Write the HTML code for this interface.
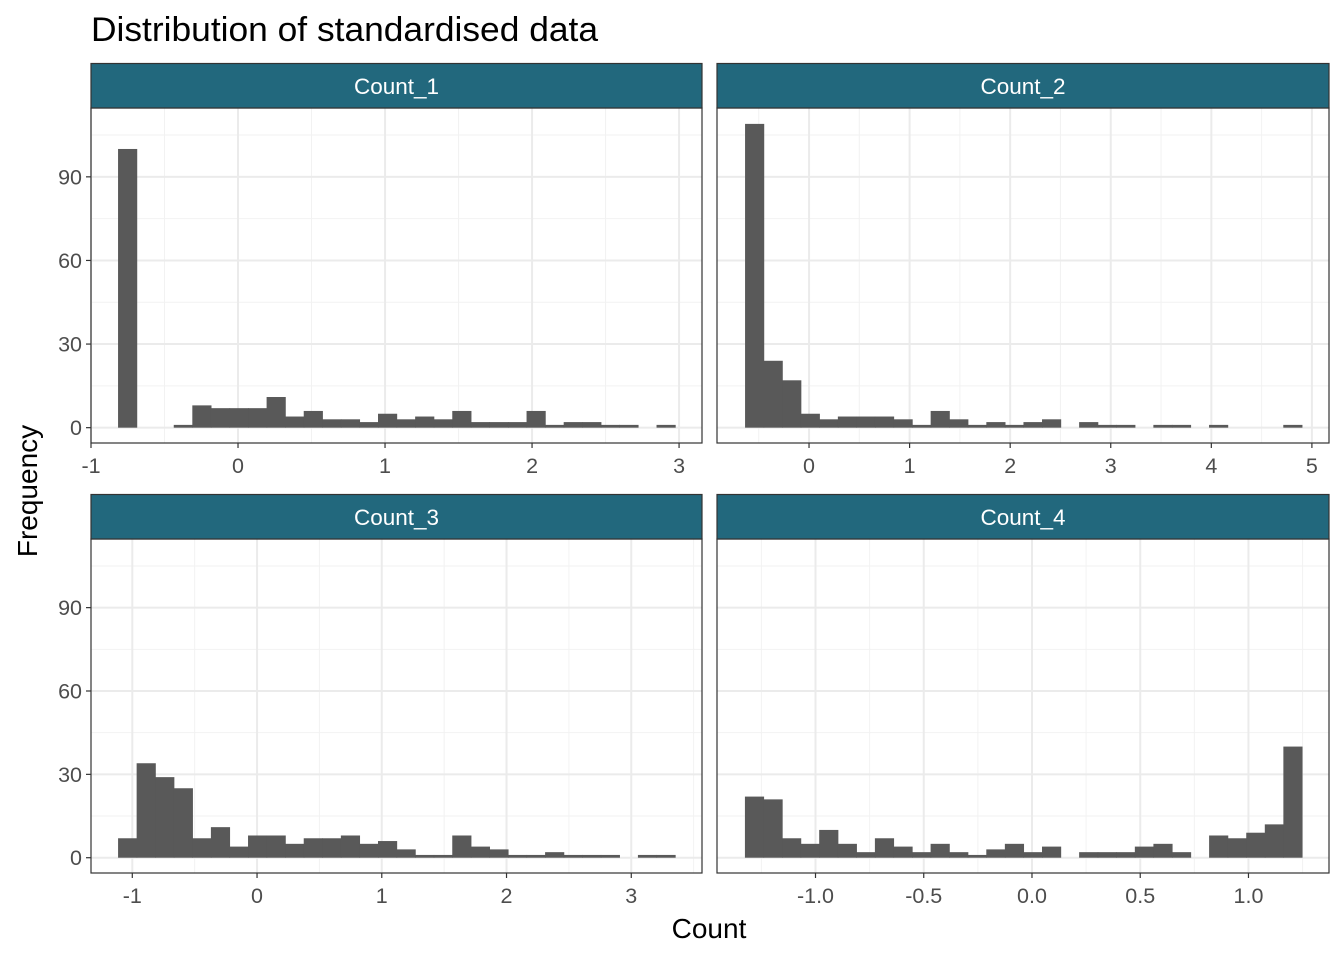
<!DOCTYPE html>
<html><head><meta charset="utf-8"><style>
body{margin:0;background:#fff;}
svg text{font-family:"Liberation Sans",sans-serif;}
</style></head><body>
<svg id="chart" width="1344" height="960" xmlns="http://www.w3.org/2000/svg">
<text x="91" y="41" font-size="34.5" fill="#000" textLength="507" lengthAdjust="spacingAndGlyphs">Distribution of standardised data</text>
<text x="709" y="938" font-size="28" fill="#000" text-anchor="middle">Count</text>
<text x="0" y="0" font-size="28" fill="#000" text-anchor="middle" transform="translate(37,491) rotate(-90)">Frequency</text>
</svg>
<script>
const panelNames = ["Count_1","Count_2","Count_3","Count_4"];
const counts1 = [100,0,0,1,8,7,7,7,11,4,6,3,3,2,5,3,4,3,6,2,2,2,6,1,2,2,1,1,0,1];
const counts2 = [109,24,17,5,3,4,4,4,3,1,6,3,1,2,1,2,3,0,2,1,1,0,1,1,0,1,0,0,0,1];
const counts3 = [7,34,29,25,7,11,4,8,8,5,7,7,8,5,6,3,1,1,8,4,3,1,1,2,1,1,1,0,1,1];
const counts4 = [22,21,7,5,10,5,2,7,4,2,5,2,1,3,5,2,4,0,2,2,2,4,5,2,0,8,7,9,12,40];
const dataRange1 = [-0.816, 2.973];
const dataRange2 = [-0.636, 4.90];
const dataRange3 = [-1.114, 3.351];
const dataRange4 = [-1.326, 1.247];
const xTicks1 = [-1,0,1,2,3];
const xTicks2 = [0,1,2,3,4,5];
const xTicks3 = [-1,0,1,2,3];
const xTicks4 = [-1.0,-0.5,0.0,0.5,1.0];
const xTickLabels1 = ["-1","0","1","2","3"];
const xTickLabels2 = ["0","1","2","3","4","5"];
const xTickLabels3 = ["-1","0","1","2","3"];
const xTickLabels4 = ["-1.0","-0.5","0.0","0.5","1.0"];
const yTicks = [0,30,60,90];

const svg = document.getElementById('chart');
const NS = "http://www.w3.org/2000/svg";
function mk(tag, attrs, parent){const e=document.createElementNS(NS,tag);for(const k in attrs)e.setAttribute(k,attrs[k]);(parent||svg).appendChild(e);return e;}

const panels = [
 {counts:counts1, range:dataRange1, ticks:xTicks1, labels:xTickLabels1, x0:91, x1:702, y0:108, y1:443, xdom:[-1,3.156]},
 {counts:counts2, range:dataRange2, ticks:xTicks2, labels:xTickLabels2, x0:717, x1:1329, y0:108, y1:443, xdom:[-0.915,5.17]},
 {counts:counts3, range:dataRange3, ticks:xTicks3, labels:xTickLabels3, x0:91, x1:702, y0:539, y1:873, xdom:[-1.331,3.567]},
 {counts:counts4, range:dataRange4, ticks:xTicks4, labels:xTickLabels4, x0:717, x1:1329, y0:539, y1:873, xdom:[-1.455,1.372]}
];
const ydom = [-5.5, 114.7];

panels.forEach((p,i)=>{
  const g = mk('g',{});
  
  
  const xs = v => p.x0 + (v-p.xdom[0])/(p.xdom[1]-p.xdom[0])*(p.x1-p.x0);
  const ys = v => p.y1 - (v-ydom[0])/(ydom[1]-ydom[0])*(p.y1-p.y0);
  const step = p.ticks[1]-p.ticks[0];
  for(let v=p.ticks[0]-step/2; v<=p.xdom[1]; v+=step){ if(v<p.xdom[0])continue; const x=xs(v);
    const l=mk('line',{x1:x,x2:x,y1:p.y0,y2:p.y1,stroke:'#f2f2f2','stroke-width':1},g);
     }
  [15,45,75,105].forEach(v=>{const y=ys(v);
    const l=mk('line',{x1:p.x0,x2:p.x1,y1:y,y2:y,stroke:'#f2f2f2','stroke-width':1},g);
     });
  p.ticks.forEach(v=>{const x=xs(v);
    const l=mk('line',{x1:x,x2:x,y1:p.y0,y2:p.y1,stroke:'#ebebeb','stroke-width':2},g);
     });
  yTicks.forEach(v=>{const y=ys(v);
    const l=mk('line',{x1:p.x0,x2:p.x1,y1:y,y2:y,stroke:'#ebebeb','stroke-width':2},g);
     });
  const n=p.counts.length, w=(p.range[1]-p.range[0])/n;
  p.counts.forEach((c,k)=>{ if(c<=0) return;
    const a=xs(p.range[0]+k*w), b=xs(p.range[0]+(k+1)*w);
    const r=mk('rect',{x:a,y:ys(c),width:b-a+0.6,height:ys(0)-ys(c),fill:'#595959'},g);
     });
  const br=mk('rect',{x:p.x0,y:p.y0,width:p.x1-p.x0,height:p.y1-p.y0,fill:'none',stroke:'#333','stroke-width':1.2},g);
   
  const st=mk('rect',{x:p.x0,y:p.y0-44.5,width:p.x1-p.x0,height:44.5,fill:'#22687d',stroke:'#333','stroke-width':1.2},g);
   
  const stt=mk('text',{x:(p.x0+p.x1)/2,y:p.y0-14,'font-size':22.5,fill:'#fff','text-anchor':'middle'},g);
  stt.textContent=panelNames[i];
   
  p.ticks.forEach((v,k)=>{const x=xs(v);
    const t=mk('line',{x1:x,x2:x,y1:p.y1,y2:p.y1+5,stroke:'#333','stroke-width':1.2},g);
     
    const tl=mk('text',{x:x,y:p.y1+30,'font-size':21.5,fill:'#4d4d4d','text-anchor':'middle'},g);
    tl.textContent=p.labels[k];
     });
  if(i%2===0){
    yTicks.forEach(v=>{const y=ys(v);
      const t=mk('line',{x1:p.x0-5,x2:p.x0,y1:y,y2:y,stroke:'#333','stroke-width':1.2},g);
       
      const tl=mk('text',{x:p.x0-9,y:y+7.5,'font-size':21.5,fill:'#4d4d4d','text-anchor':'end'},g);
      tl.textContent=String(v);
       });
  }
});
</script>
</body></html>
